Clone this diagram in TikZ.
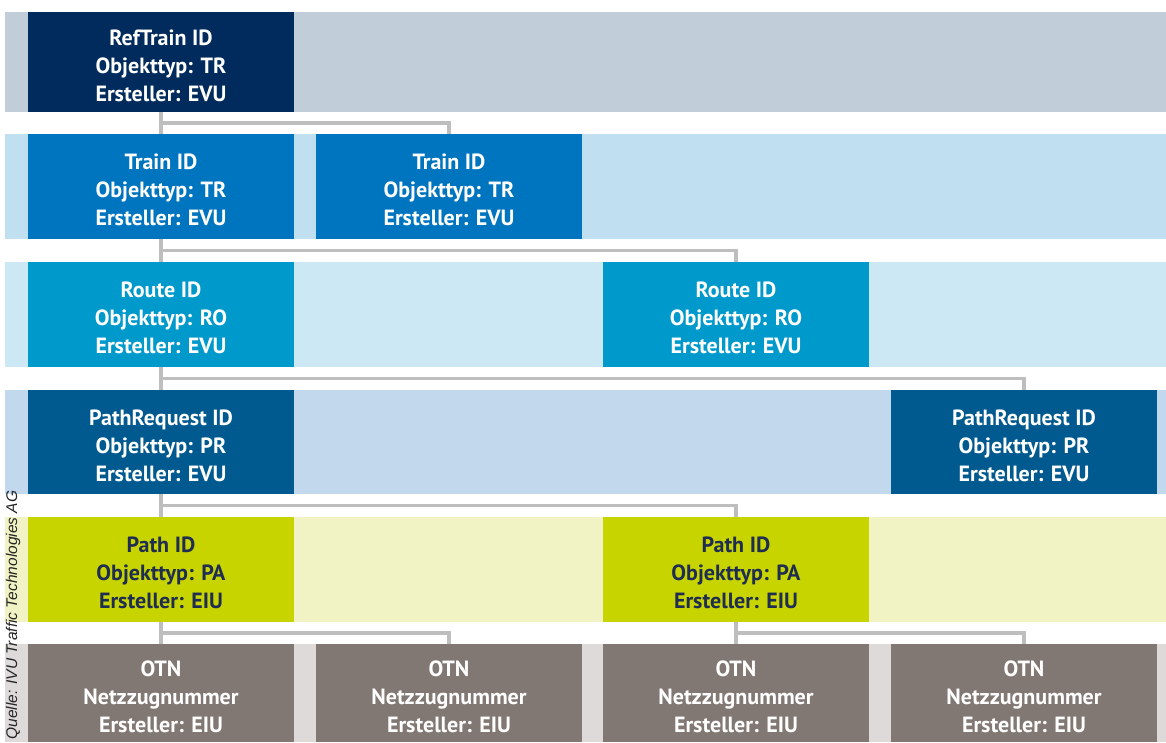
\documentclass[tikz,border=0pt]{standalone}
\usepackage{fontspec}
\setmainfont{PT Sans}
\newfontfamily\srcfont{Liberation Sans}
\usetikzlibrary{calc}
\newcommand\firststrut{\rule{0pt}{23pt}}
\definecolor{bandA}{HTML}{C1CDD9}\definecolor{boxA}{HTML}{002B5C}
\definecolor{bandB}{HTML}{C0E0F1}\definecolor{boxB}{HTML}{0075BF}
\definecolor{bandC}{HTML}{CCE8F5}\definecolor{boxC}{HTML}{0099CC}
\definecolor{bandD}{HTML}{C2D8EC}\definecolor{boxD}{HTML}{005A8F}
\definecolor{bandE}{HTML}{F1F3C4}\definecolor{boxE}{HTML}{C8D400}
\definecolor{bandF}{HTML}{DEDAD9}\definecolor{boxF}{HTML}{827873}
\definecolor{txtE}{HTML}{1F2D52}
\definecolor{connC}{HTML}{BEBEBE}
\tikzset{
  idbox/.style={minimum width=266pt, inner sep=0pt, outer sep=0pt, align=center,
    text=white, font=\fontsize{22}{28}\selectfont\bfseries},
  conn/.style={draw=connC, line width=3.5pt},
}
\begin{document}
\begin{tikzpicture}[x=1pt,y=-1pt]
\fill[white] (0,0) rectangle (1166,742);
\useasboundingbox (0,0) rectangle (1166,742);
% bands
\fill[bandA] (5,12) rectangle (1166,112);
\fill[bandB] (5,134) rectangle (1166,239);
\fill[bandC] (5,262) rectangle (1166,367);
\fill[bandD] (5,390) rectangle (1166,494);
\fill[bandE] (5,517) rectangle (1166,622);
\fill[bandF] (5,644) rectangle (1166,742);
% boxes
\node[idbox, fill=boxA, minimum height=100pt] (rt) at (161,62) {\firststrut RefTrain ID\\Objekttyp: TR\\Ersteller: EVU};
\node[idbox, fill=boxB, minimum height=105pt] (tr1) at (161,186.5) {\firststrut Train ID\\Objekttyp: TR\\Ersteller: EVU};
\node[idbox, fill=boxB, minimum height=105pt] (tr2) at (449,186.5) {\firststrut Train ID\\Objekttyp: TR\\Ersteller: EVU};
\node[idbox, fill=boxC, minimum height=105pt] (ro1) at (161,314.5) {\firststrut Route ID\\Objekttyp: RO\\Ersteller: EVU};
\node[idbox, fill=boxC, minimum height=105pt] (ro2) at (736,314.5) {\firststrut Route ID\\Objekttyp: RO\\Ersteller: EVU};
\node[idbox, fill=boxD, minimum height=104pt] (pr1) at (161,442) {\firststrut PathRequest ID\\Objekttyp: PR\\Ersteller: EVU};
\node[idbox, fill=boxD, minimum height=104pt] (pr2) at (1024,442) {\firststrut PathRequest ID\\Objekttyp: PR\\Ersteller: EVU};
\node[idbox, fill=boxE, text=txtE, minimum height=105pt] (pa1) at (161,569.5) {\firststrut Path ID\\Objekttyp: PA\\Ersteller: EIU};
\node[idbox, fill=boxE, text=txtE, minimum height=105pt] (pa2) at (736,569.5) {\firststrut Path ID\\Objekttyp: PA\\Ersteller: EIU};
\node[idbox, fill=boxF, minimum height=98pt] (ot1) at (161,693) {\firststrut OTN\\Netzzugnummer\\Ersteller: EIU};
\node[idbox, fill=boxF, minimum height=98pt] (ot2) at (449,693) {\firststrut OTN\\Netzzugnummer\\Ersteller: EIU};
\node[idbox, fill=boxF, minimum height=98pt] (ot3) at (736,693) {\firststrut OTN\\Netzzugnummer\\Ersteller: EIU};
\node[idbox, fill=boxF, minimum height=98pt] (ot4) at (1024,693) {\firststrut OTN\\Netzzugnummer\\Ersteller: EIU};
% connectors
\draw[conn] (rt.south) -- (tr1.north);
\draw[conn] (rt.south) |- ($(rt.south)!0.5!(tr1.north)$) -| (tr2.north);
\draw[conn] (tr1.south) -- (ro1.north);
\draw[conn] (tr1.south) |- ($(tr1.south)!0.5!(ro1.north)$) -| (ro2.north);
\draw[conn] (ro1.south) -- (pr1.north);
\draw[conn] (ro1.south) |- ($(ro1.south)!0.5!(pr1.north)$) -| (pr2.north);
\draw[conn] (pr1.south) -- (pa1.north);
\draw[conn] (pr1.south) |- ($(pr1.south)!0.5!(pa1.north)$) -| (pa2.north);
\draw[conn] (pa1.south) -- (ot1.north);
\draw[conn] (pa1.south) |- ($(pa1.south)!0.5!(ot1.north)$) -| (ot2.north);
\draw[conn] (pa2.south) -- (ot3.north);
\draw[conn] (pa2.south) |- ($(pa2.south)!0.5!(ot3.north)$) -| (ot4.north);
% source
\node[rotate=90, font=\srcfont\itshape\fontsize{15.5}{17}\selectfont, text=black!85, inner sep=0pt] (src) at (13,615) {Quelle: IVU Traffic Technologies AG};
\end{tikzpicture}
\end{document}
